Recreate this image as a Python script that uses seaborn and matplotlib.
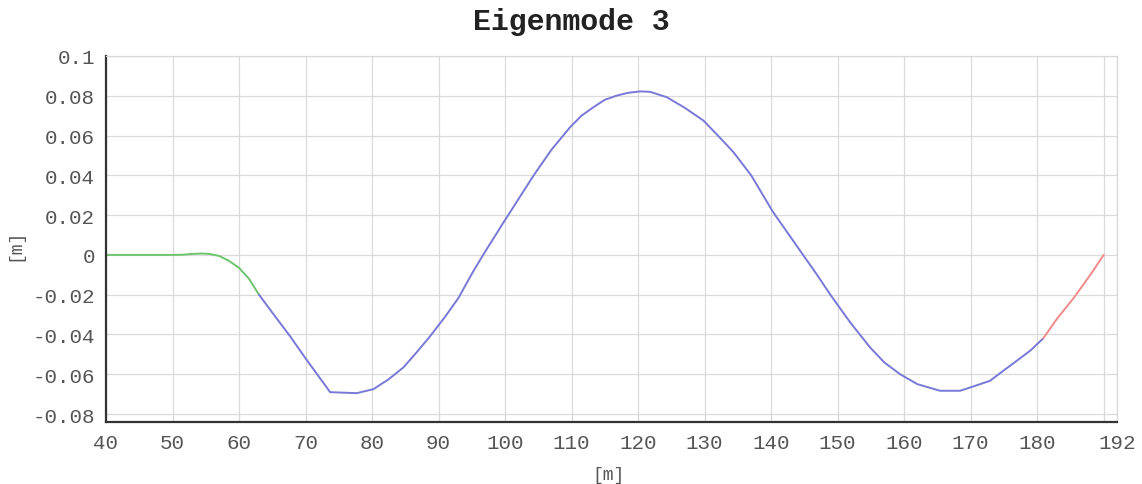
import matplotlib
matplotlib.use("Agg")
import matplotlib.pyplot as plt
import seaborn as sns
import pandas as pd
from matplotlib.ticker import MultipleLocator

# ---- data ----
green_x = [40, 45, 50, 51.5, 53, 54.5, 55.5, 57, 58.5, 60, 61.5, 63]
green_y = [0, 0, 0, 0.0001, 0.0005, 0.0007, 0.0005, -0.0005, -0.003, -0.0065, -0.012, -0.020]

blue_x = [63, 65, 67.7, 70, 73.7, 77.7, 80.2, 82.5, 84.7, 86.7, 88.7, 91, 93, 95,
          96.7, 99.7, 102, 104.3, 107, 109.8, 111.5, 113.3, 115, 116.8, 118.5, 120.3,
          121.8, 124.3, 127, 129.8, 132, 134.3, 137, 140.3, 142.5, 144.8, 146.9, 148.9,
          151.9, 154.9, 157, 159.4, 162, 165.4, 168.4, 170.5, 172.9, 175, 176.9, 179, 180.9]
blue_y = [-0.020, -0.029, -0.041, -0.052, -0.069, -0.0695, -0.0675, -0.0625, -0.0566,
          -0.049, -0.041, -0.031, -0.0216, -0.0095, 0.000, 0.016, 0.028, 0.040, 0.053,
          0.0643, 0.070, 0.0743, 0.078, 0.0801, 0.0815, 0.0822, 0.0820, 0.0793, 0.074,
          0.0676, 0.060, 0.0518, 0.040, 0.0215, 0.011, 0.000, -0.010, -0.020, -0.034,
          -0.0466, -0.054, -0.060, -0.065, -0.0683, -0.0683, -0.066, -0.0633, -0.058,
          -0.0533, -0.048, -0.042]

red_x = [180.9, 183, 185.5, 188, 190]
red_y = [-0.042, -0.032, -0.0216, -0.010, 0.0]

x_ticks = [40, 50, 60, 70, 80, 90, 100, 110, 120, 130, 140, 150, 160, 170, 180, 190, 192]
x_tick_labels = ["40", "50", "60", "70", "80", "90", "100", "110", "120", "130", "140",
                 "150", "160", "170", "180", "", "192"]
y_ticks = [-0.08, -0.06, -0.04, -0.02, 0, 0.02, 0.04, 0.06, 0.08, 0.1]
y_tick_labels = ["-0.08", "-0.06", "-0.04", "-0.02", "0",
                 "0.02", "0.04", "0.06", "0.08", "0.1"]

title = "Eigenmode 3"
x_label = "[m]"
y_label = "[m]"

# ---- style ----
sns.set_style("white")
plt.rcParams["font.family"] = ["Liberation Mono", "DejaVu Sans Mono"]

fig = plt.figure(figsize=(11.42, 4.85), dpi=100)
ax = fig.add_axes([106 / 1142, 1 - 423 / 485, (1117 - 106) / 1142, (423 - 57) / 485])

segs = [(green_x, green_y, "#6cc46c"), (blue_x, blue_y, "#7878d8"), (red_x, red_y, "#f08a8a")]
for xs, ys, col in segs:
    df = pd.DataFrame({"x": xs, "y": ys})
    sns.lineplot(data=df, x="x", y="y", ax=ax, color=col, linewidth=1.4, sort=False,
                 estimator=None)

ax.set_xlim(40, 192)
ax.set_ylim(-0.084, 0.1)
ax.set_xticks(x_ticks)
ax.set_xticklabels(x_tick_labels)
ax.set_yticks(y_ticks)
ax.set_yticklabels(y_tick_labels)
ax.yaxis.set_minor_locator(MultipleLocator(0.002))

ax.grid(True, which="major", color="#dadada", linewidth=0.9)
ax.set_axisbelow(True)

for side in ["left", "bottom"]:
    ax.spines[side].set_color("#333333")
    ax.spines[side].set_linewidth(1.6)
for side in ["top", "right"]:
    ax.spines[side].set_color("#d8d8d8")
    ax.spines[side].set_linewidth(0.9)

ax.tick_params(axis="both", which="major", direction="out", length=6, width=1.3,
               color="#333333", labelsize=15, labelcolor="#555555", pad=2)
ax.tick_params(axis="y", which="minor", direction="out", length=3.5, width=1.0,
               color="#333333")
ax.set_xlabel("")
ax.set_ylabel("")

fig.text(0.5, 1 - 22 / 485, title, ha="center", va="center", fontsize=21.5,
         fontweight="bold", color="#222222")
fig.text(15 / 1142, 1 - 245 / 485, y_label, ha="center", va="center", rotation=90,
         fontsize=13, color="#555555")
fig.text(608 / 1142, 1 - 467 / 485, x_label, ha="center", va="top",
         fontsize=13, color="#555555")

fig.savefig("out.png", dpi=100)
